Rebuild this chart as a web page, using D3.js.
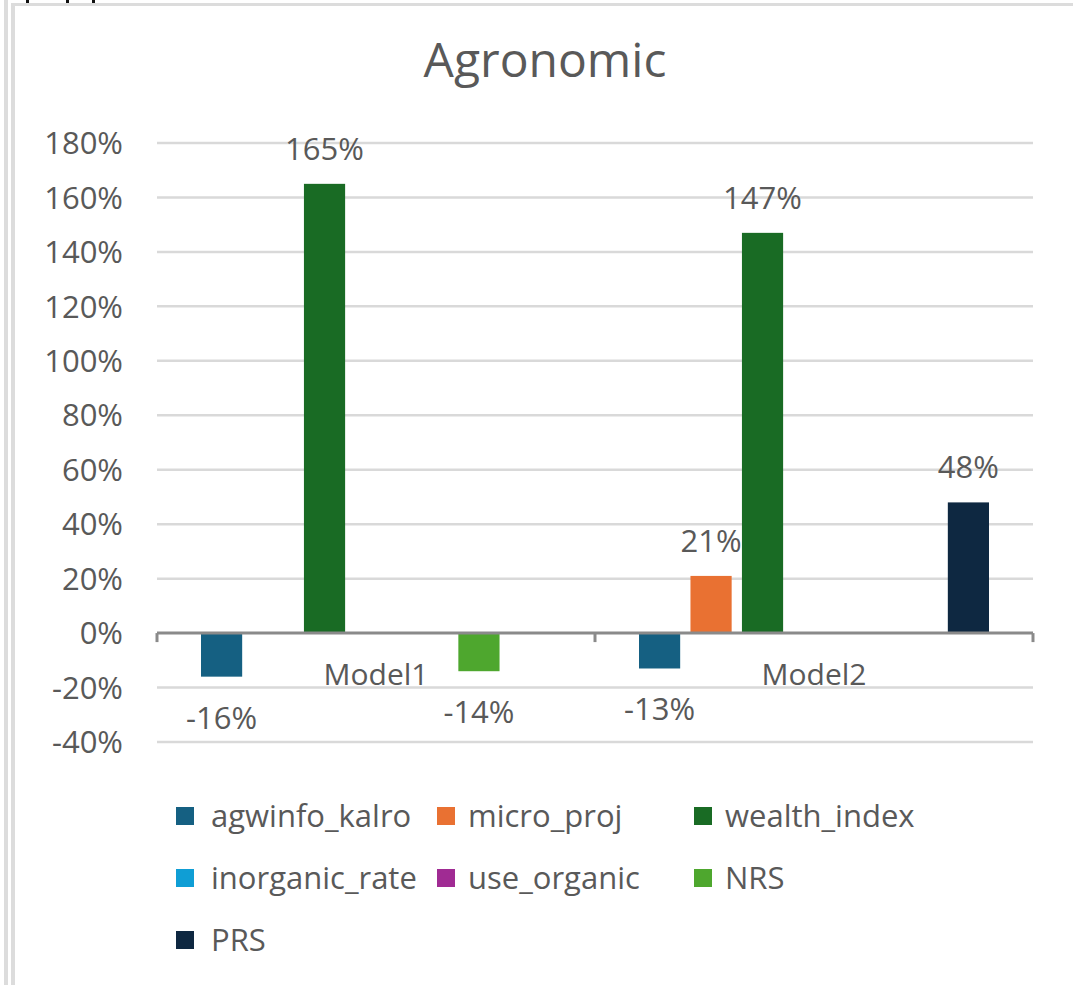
<!DOCTYPE html>
<html>
<head>
<meta charset="utf-8">
<script src="https://cdn.jsdelivr.net/npm/d3@7"></script>
<style>
  html, body { margin: 0; padding: 0; background: #ffffff; }
  svg { display: block; }
  text { font-family: "Open Sans", "Noto Sans", sans-serif; fill: #595959; }
</style>
</head>
<body>
<svg id="chart" width="1073" height="985"></svg>
<script>
// Chart data
const models = ["Model1", "Model2"];
const seriesNames = ["agwinfo_kalro", "micro_proj", "wealth_index", "inorganic_rate", "use_organic", "NRS", "PRS"];
const seriesColors = ["#156082", "#E97132", "#196B24", "#0F9ED5", "#A02B93", "#4EA72E", "#0E2841"];
// values per series, one entry per model (null = no bar)
const model1Values = [-0.16, null, 1.65, null, null, -0.14, null];
const model2Values = [-0.13, 0.21, 1.47, null, null, null, 0.48];
const yTicks = [-0.4, -0.2, 0, 0.2, 0.4, 0.6, 0.8, 1.0, 1.2, 1.4, 1.6, 1.8];
const chartTitle = "Agronomic";

const valuesByModel = { Model1: model1Values, Model2: model2Values };

const svg = d3.select("#chart");
const pctBase = d3.format(".0%");
// plain hyphen for negatives
const pct = v => pctBase(v).replace("\u2212", "-");
const gray = "#595959";

// Sheet frame lines around the chart object
svg.append("rect").attr("x", 4).attr("y", 0).attr("width", 4).attr("height", 985).attr("fill", "#dcdcdc");
svg.append("rect").attr("x", 11).attr("y", 3).attr("width", 4).attr("height", 982).attr("fill", "#dcdcdc");
svg.append("rect").attr("x", 11).attr("y", 3).attr("width", 1062).attr("height", 3).attr("fill", "#dcdcdc");
[26, 66, 92].forEach(x => {
  svg.append("rect").attr("x", x).attr("y", 0).attr("width", 3).attr("height", 3).attr("fill", "#111");
});

const plotLeft = 157, plotRight = 1033, plotTop = 143, plotBottom = 742;

const y = d3.scaleLinear().domain([-0.4, 1.8]).range([plotBottom, plotTop]);
const x0 = d3.scaleBand().domain(models).range([plotLeft, plotRight]).padding(0);
const x1 = d3.scaleBand().domain(seriesNames).range([44, x0.bandwidth() - 44]).paddingInner(0.2).paddingOuter(0);

// Title
svg.append("text")
  .attr("x", 545).attr("y", 77)
  .attr("text-anchor", "middle")
  .style("font-size", "48px")
  .text(chartTitle);

// Gridlines
const grid = svg.append("g");
grid.selectAll("line")
  .data(yTicks.filter(d => d !== 0))
  .join("line")
  .attr("x1", plotLeft).attr("x2", plotRight)
  .attr("y1", d => y(d)).attr("y2", d => y(d))
  .attr("stroke", "#d9d9d9").attr("stroke-width", 2.5);

// Y axis labels
const yAxis = d3.axisLeft(y).tickValues(yTicks).tickFormat(pct).tickSize(0).tickPadding(0);
const yG = svg.append("g").attr("transform", `translate(123,0)`).call(yAxis);
yG.select(".domain").remove();
yG.selectAll("text")
  .attr("dy", null)
  .attr("y", 10.7)
  .style("font-size", "31px")
  .style("font-family", '"Open Sans", sans-serif')
  .attr("fill", gray);

// Bars
const groups = svg.append("g").selectAll("g")
  .data(models)
  .join("g")
  .attr("transform", d => `translate(${x0(d)},0)`);

const barData = m => seriesNames.map((s, i) => ({ series: s, value: valuesByModel[m][i], color: seriesColors[i] }))
  .filter(d => d.value !== null);

groups.selectAll("rect")
  .data(m => barData(m))
  .join("rect")
  .attr("x", d => x1(d.series))
  .attr("width", x1.bandwidth())
  .attr("y", d => y(Math.max(0, d.value)))
  .attr("height", d => Math.abs(y(d.value) - y(0)))
  .attr("fill", d => d.color);

// Category axis (zero line) with boundary ticks
const axisG = svg.append("g").attr("transform", `translate(0,${y(0)})`);
axisG.append("line")
  .attr("x1", plotLeft).attr("x2", plotRight)
  .attr("y1", 0).attr("y2", 0)
  .attr("stroke", "#8a8a8a").attr("stroke-width", 3);
[plotLeft, x0("Model2"), plotRight].forEach(xv => {
  axisG.append("line")
    .attr("x1", xv).attr("x2", xv).attr("y1", 0).attr("y2", 9)
    .attr("stroke", "#8a8a8a").attr("stroke-width", 3);
});

// Category labels
svg.append("g").selectAll("text")
  .data(models)
  .join("text")
  .attr("x", d => x0(d) + x0.bandwidth() / 2)
  .attr("y", 685)
  .attr("text-anchor", "middle")
  .style("font-size", "30px")
  .text(d => d);

// Data labels
groups.selectAll("text.value")
  .data(m => barData(m))
  .join("text")
  .attr("class", "value")
  .attr("x", d => x1(d.series) + x1.bandwidth() / 2)
  .attr("y", d => (d.value >= 0 ? y(d.value) - 35 : y(d.value) + 41) + 11)
  .attr("text-anchor", "middle")
  .style("font-size", "31px")
  .text(d => pct(d.value));

// Legend
const legendCols = [176, 437, 694];
const legendRows = [816, 878, 940];
const legend = svg.append("g").selectAll("g")
  .data(seriesNames.map((s, i) => ({ name: s, color: seriesColors[i], i })))
  .join("g")
  .attr("transform", d => `translate(${legendCols[d.i % 3]},${legendRows[Math.floor(d.i / 3)]})`);
legend.append("rect")
  .attr("x", 0).attr("y", -9).attr("width", 18).attr("height", 18)
  .attr("fill", d => d.color);
legend.append("text")
  .attr("x", d => d.i % 3 === 0 ? 35 : 31)
  .attr("y", 11)
  .style("font-size", "31px")
  .text(d => d.name);
</script>
</body>
</html>
